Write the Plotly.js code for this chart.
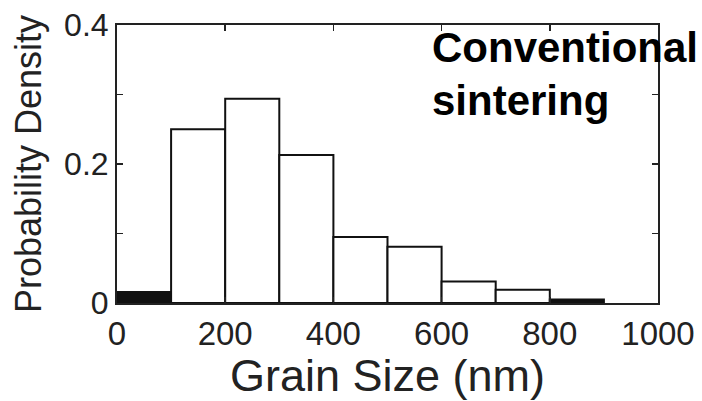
<!DOCTYPE html>
<html>
<head>
<meta charset="utf-8">
<script src="https://cdn.plot.ly/plotly-3.0.1.min.js"></script>
<style>html,body{margin:0;padding:0;background:#fff;}#chart{width:702px;height:401px;}</style>
</head>
<body>
<div id="chart"></div>
<script>
// Histogram bins (nm) and probability density
const binCenters = [50, 150, 250, 350, 450, 550, 650, 750, 850];
const density = [0.016, 0.250, 0.294, 0.213, 0.095, 0.081, 0.031, 0.019, 0.005];
const barColors = ['#111', '#fff', '#fff', '#fff', '#fff', '#fff', '#fff', '#fff', '#111'];
const xTickVals = [0, 200, 400, 600, 800, 1000];
const xTickText = ['0', '200', '400', '600', '800', '1000'];
const yTickVals = [0, 0.1, 0.2, 0.3, 0.4];
const yTickText = ['0', '', '0.2', '', '0.4'];

const trace = {
  type: 'bar',
  x: binCenters,
  y: density,
  width: 100,
  marker: {color: barColors, line: {color: '#111', width: 2}},
  hoverinfo: 'x+y'
};

const font = 'Liberation Sans, Arial, Helvetica, sans-serif';

const layout = {
  width: 702, height: 401,
  margin: {l: 117, r: 44, t: 25, b: 98},
  paper_bgcolor: '#fff', plot_bgcolor: '#fff',
  showlegend: false,
  bargap: 0,
  font: {family: font, color: '#222'},
  xaxis: {
    range: [0, 1000],
    tickvals: xTickVals, ticktext: xTickText,
    ticks: 'inside', ticklen: 6, tickwidth: 1.5, tickcolor: '#222',
    showline: true, linecolor: '#222', linewidth: 2, mirror: 'ticks',
    showgrid: false, zeroline: false,
    tickfont: {size: 33, family: font, color: '#222'},
    title: {text: 'Grain Size (nm)', font: {size: 45, family: font, color: '#222'}, standoff: 4}
  },
  yaxis: {
    range: [0, 0.4],
    tickvals: yTickVals, ticktext: yTickText,
    ticks: 'inside', ticklen: 6, tickwidth: 1.5, tickcolor: '#222',
    showline: true, linecolor: '#222', linewidth: 2, mirror: 'ticks',
    showgrid: false, zeroline: false,
    tickfont: {size: 32, family: font, color: '#222'},
    title: {text: 'Probability Density', font: {size: 36, family: font, color: '#222'}, standoff: 12}
  },
  annotations: [
    {text: '<b>Conventional</b>', xref: 'paper', yref: 'paper', x: 0.578, y: 0.918,
     xanchor: 'left', yanchor: 'middle', showarrow: false,
     font: {size: 42, family: font, color: '#000'}},
    {text: '<b>sintering</b>', xref: 'paper', yref: 'paper', x: 0.578, y: 0.728,
     xanchor: 'left', yanchor: 'middle', showarrow: false,
     font: {size: 42, family: font, color: '#000'}}
  ]
};

Plotly.newPlot('chart', [trace], layout, {displayModeBar: false, staticPlot: true});
</script>
</body>
</html>
